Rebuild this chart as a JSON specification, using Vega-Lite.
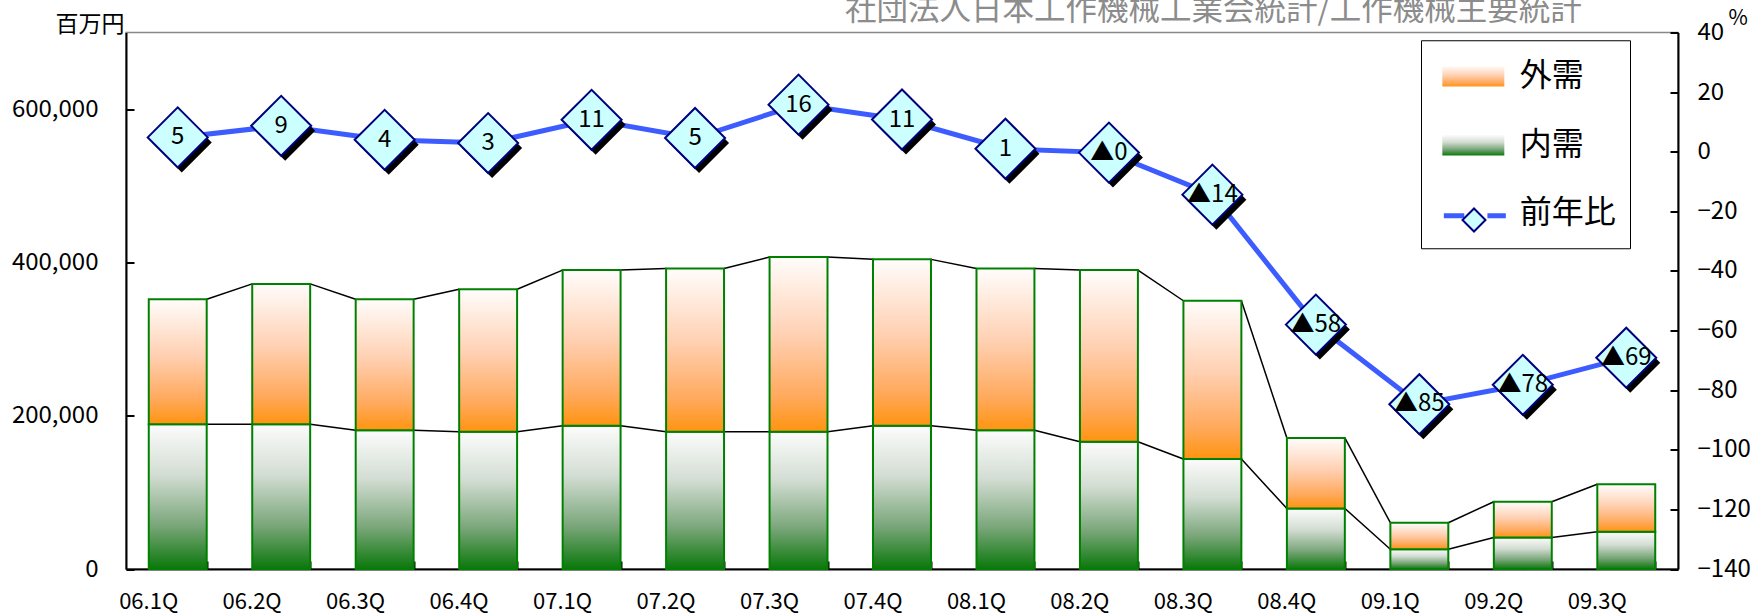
{
  "$schema": "https://vega.github.io/schema/vega-lite/v6.json",
  "width": 1552,
  "height": 536.5,
  "autosize": {"type": "none"},
  "padding": {"left": 126, "top": 32.5, "right": 73, "bottom": 45},
  "background": "white",
  "config": {
    "font": "Noto Sans CJK JP",
    "view": {"stroke": "#888888", "strokeWidth": 1.5}
  },
  "title": {
    "text": "社団法人日本工作機械工業会統計/工作機械主要統計",
    "anchor": "start",
    "frame": "group",
    "dx": 719,
    "fontSize": 31.5,
    "fontWeight": "normal",
    "color": "#8c8c8c",
    "baseline": "alphabetic",
    "offset": -44
  },
  "data": {
    "values": [
      {"q": "06.1Q", "内需": 189000, "外需": 163000, "pct": 4.8, "label": "5"},
      {"q": "06.2Q", "内需": 189000, "外需": 183000, "pct": 8.7, "label": "9"},
      {"q": "06.3Q", "内需": 181000, "外需": 171000, "pct": 4.0, "label": "4"},
      {"q": "06.4Q", "内需": 179000, "外需": 186000, "pct": 2.9, "label": "3"},
      {"q": "07.1Q", "内需": 187000, "外需": 203000, "pct": 10.7, "label": "11"},
      {"q": "07.2Q", "内需": 179000, "外需": 213000, "pct": 4.6, "label": "5"},
      {"q": "07.3Q", "内需": 179000, "外需": 228000, "pct": 15.8, "label": "16"},
      {"q": "07.4Q", "内需": 187000, "外需": 217000, "pct": 10.8, "label": "11"},
      {"q": "08.1Q", "内需": 181000, "外需": 211000, "pct": 1.0, "label": "1"},
      {"q": "08.2Q", "内需": 166000, "外需": 224000, "pct": -0.3, "label": "▲0"},
      {"q": "08.3Q", "内需": 143500, "外需": 206500, "pct": -14.4, "label": "▲14"},
      {"q": "08.4Q", "内需": 79000, "外需": 92000, "pct": -58.0, "label": "▲58"},
      {"q": "09.1Q", "内需": 25700, "外需": 34700, "pct": -84.7, "label": "▲85"},
      {"q": "09.2Q", "内需": 41000, "外需": 46800, "pct": -78.2, "label": "▲78"},
      {"q": "09.3Q", "内需": 48700, "外需": 61800, "pct": -69.1, "label": "▲69"}
    ]
  },
  "layer": [
    {
      "layer": [
        {
          "transform": [
            {"fold": ["内需", "外需"], "as": ["key", "value"]},
            {"stack": "value", "groupby": ["q"], "sort": [{"field": "key", "order": "ascending"}], "as": ["v0", "v1"]},
            {"window": [{"op": "lead", "field": "v1", "as": "nv1"}, {"op": "lead", "field": "q", "as": "nq"}], "groupby": ["key"], "sort": [{"field": "q", "order": "ascending"}]},
            {"filter": "datum.nq != null"}
          ],
          "mark": {"type": "rule", "color": "black", "strokeWidth": 1.5, "xOffset": 29, "x2Offset": -29},
          "encoding": {
            "x": {"field": "q", "type": "nominal"},
            "x2": {"field": "nq"},
            "y": {"field": "v1", "type": "quantitative"},
            "y2": {"field": "nv1"}
          }
        },
        {
          "transform": [
            {"fold": ["内需", "外需"], "as": ["key", "value"]},
            {"stack": "value", "groupby": ["q"], "sort": [{"field": "key", "order": "ascending"}], "as": ["v0", "v1"]},
            {"filter": "datum.key === '内需'"}
          ],
          "mark": {
            "type": "bar", "strokeWidth": 2, "opacity": 1,
            "fill": {"gradient": "linear", "x1": 0, "y1": 0, "x2": 0, "y2": 1, "stops": [
              {"offset": 0, "color": "#fcfcfc"}, {"offset": 0.35, "color": "#d3ddd3"},
              {"offset": 0.7, "color": "#7aa67a"}, {"offset": 1, "color": "#0a780a"}]}
          },
          "encoding": {
            "x": {
              "field": "q", "type": "nominal", "title": null,
              "scale": {"paddingInner": 0.44, "paddingOuter": 0.22},
              "axis": {
                "orient": "bottom", "labelAngle": 0, "labelFontSize": 22, "labelColor": "black",
                "tickBand": "extent", "tickSize": -8, "tickWidth": 2, "tickColor": "black",
                "domainColor": "black", "domainWidth": 2, "labelPadding": 40, "grid": false
              }
            },
            "y": {
              "field": "v1", "type": "quantitative",
              "scale": {"domain": [0, 700000], "nice": false},
              "axis": {
                "orient": "left", "values": [0, 200000, 400000, 600000], "format": ",.0f",
                "title": "百万円", "titleAngle": 0, "titleAlign": "right", "titleBaseline": "alphabetic",
                "titleX": -2, "titleY": -1, "titleFontSize": 23, "titleFontWeight": "normal", "titleColor": "black",
                "labelFontSize": 24, "labelColor": "black", "tickSize": -8, "tickWidth": 2, "tickColor": "black",
                "domainColor": "black", "domainWidth": 2, "labelPadding": 36, "grid": false
              }
            },
            "y2": {"field": "v0"},
            "stroke": {
              "field": "key", "type": "nominal",
              "scale": {"domain": ["外需", "内需", "前年比"], "range": ["#008000", "#008000", "#3d5cff"]},
              "legend": {
                "orient": "none", "legendX": 1295, "legendY": 7.75, "title": null,
                "padding": 14, "strokeColor": "black",
                "symbolSize": 1708, "symbolOpacity": 0, "symbolStrokeWidth": 2, "rowPadding": 25.5,
                "labelFontSize": 32, "labelOffset": 40.7, "labelColor": "black"
              }
            },
            "strokeDash": {
              "datum": "内需", "type": "nominal",
              "scale": {"range": [[1, 0]]},
              "legend": {
                "orient": "none", "legendX": 1309, "legendY": 90.75, "title": null,
                "padding": 0,
                "symbolSize": 1708, "symbolType": "M-0.71,-0.5H2.29V0.5H-0.71Z",
                "symbolStrokeColor": "#008000", "symbolStrokeWidth": 2,
                "labelFontSize": 32, "labelExpr": "''"
              }
            }
          }
        },
        {
          "transform": [
            {"fold": ["内需", "外需"], "as": ["key", "value"]},
            {"stack": "value", "groupby": ["q"], "sort": [{"field": "key", "order": "ascending"}], "as": ["v0", "v1"]},
            {"filter": "datum.key === '外需'"}
          ],
          "mark": {
            "type": "bar", "strokeWidth": 2, "opacity": 1,
            "fill": {"gradient": "linear", "x1": 0, "y1": 0, "x2": 0, "y2": 1, "stops": [
              {"offset": 0, "color": "#fffdfc"}, {"offset": 0.45, "color": "#ffd0b2"},
              {"offset": 0.8, "color": "#ffa95c"}, {"offset": 1, "color": "#ff9410"}]}
          },
          "encoding": {
            "x": {"field": "q", "type": "nominal"},
            "y": {"field": "v1", "type": "quantitative"},
            "y2": {"field": "v0"},
            "stroke": {"field": "key", "type": "nominal"},
            "strokeDash": {
              "datum": "外需", "type": "nominal",
              "scale": {"range": [[1, 0]]},
              "legend": {
                "orient": "none", "legendX": 1309, "legendY": 21.75, "title": null,
                "padding": 0,
                "symbolSize": 1708, "symbolType": "M-0.71,-0.5H2.29V0.5H-0.71Z",
                "symbolStrokeColor": "#008000", "symbolStrokeWidth": 2,
                "labelFontSize": 32, "labelExpr": "''"
              }
            }
          }
        }
      ],
      "resolve": {"scale": {"strokeDash": "independent"}, "legend": {"strokeDash": "independent"}}
    },
    {
      "layer": [
        {
          "mark": {"type": "line", "strokeWidth": 5},
          "encoding": {
            "x": {"field": "q", "type": "nominal"},
            "y": {
              "field": "pct", "type": "quantitative",
              "scale": {"domain": [-140, 40], "nice": false},
              "axis": {
                "orient": "right", "values": [-140, -120, -100, -80, -60, -40, -20, 0, 20, 40],
                "title": "%", "titleAngle": 0, "titleAlign": "left", "titleBaseline": "alphabetic",
                "titleX": 50, "titleY": -8, "titleFontSize": 21, "titleFontWeight": "normal", "titleColor": "black",
                "labelFontSize": 24, "labelColor": "black", "tickSize": -8, "tickWidth": 2, "tickColor": "black",
                "domainColor": "black", "domainWidth": 2, "labelPadding": 27, "grid": false
              }
            },
            "color": {
              "datum": "線", "type": "nominal",
              "scale": {"range": ["#3d5cff"]},
              "legend": {
                "orient": "none", "legendX": 1309, "legendY": 159.75, "title": null,
                "padding": 0,
                "symbolSize": 1708, "symbolType": "M-0.71,0H0.28M1.4,0H2.29",
                "symbolStrokeWidth": 5,
                "labelFontSize": 32, "labelExpr": "''"
              }
            }
          }
        },
        {
          "mark": {"type": "point", "shape": "diamond", "filled": true, "color": "black", "opacity": 1, "size": 3600, "xOffset": 4, "yOffset": 5},
          "encoding": {
            "x": {"field": "q", "type": "nominal"},
            "y": {"field": "pct", "type": "quantitative"}
          }
        },
        {
          "mark": {"type": "point", "filled": true, "fill": "#ccffff", "stroke": "#000080", "strokeWidth": 2, "opacity": 1, "size": 3600},
          "encoding": {
            "x": {"field": "q", "type": "nominal"},
            "y": {"field": "pct", "type": "quantitative"},
            "shape": {
              "datum": "前年比", "type": "nominal",
              "scale": {"range": ["diamond"]},
              "legend": {
                "orient": "none", "legendX": 1335.5, "legendY": 175, "title": null,
                "padding": 0, "symbolSize": 529, "symbolStrokeWidth": 2,
                "labelFontSize": 1, "labelExpr": "''"
              }
            }
          }
        },
        {
          "mark": {"type": "text", "fontSize": 24, "color": "black", "align": "center", "baseline": "middle"},
          "encoding": {
            "x": {"field": "q", "type": "nominal"},
            "y": {"field": "pct", "type": "quantitative"},
            "text": {"field": "label"}
          }
        }
      ]
    }
  ],
  "resolve": {"scale": {"y": "independent"}}
}
